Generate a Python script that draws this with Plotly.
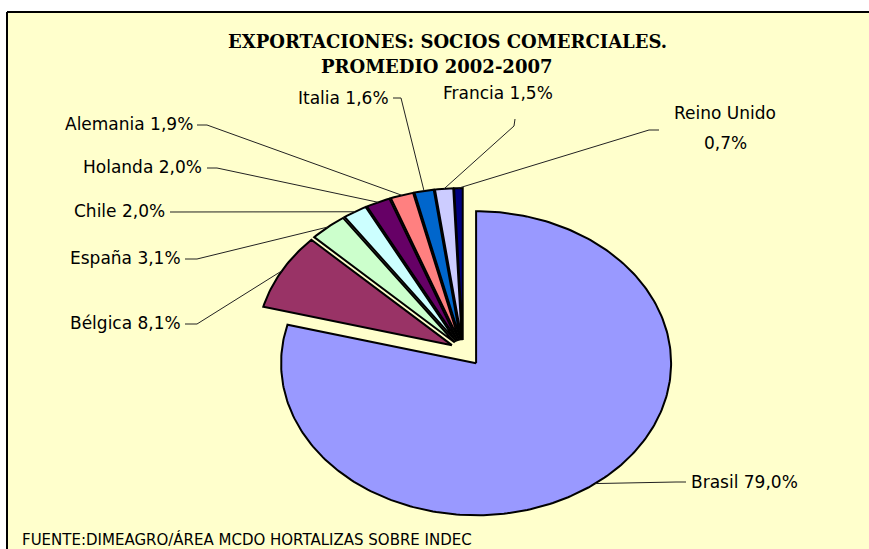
import numpy as np
import plotly.graph_objects as go

# ---------------- data ----------------
categories = ["Brasil", "Bélgica", "España", "Chile", "Holanda",
              "Alemania", "Italia", "Francia", "Reino Unido"]
shares = [79.0, 8.1, 3.1, 2.0, 2.0, 1.9, 1.6, 1.5, 0.7]
colors = ["#9999FF", "#993366", "#CCFFCC", "#CCFFFF", "#660066",
          "#FF8080", "#0066CC", "#CCCCFF", "#000080"]
pulls = [0.11, 0.065, 0.065, 0.065, 0.065, 0.065, 0.065, 0.065, 0.065]

title_lines = ["EXPORTACIONES: SOCIOS COMERCIALES.", "PROMEDIO 2002-2007"]
source_text = "FUENTE:DIMEAGRO/ÁREA MCDO HORTALIZAS SOBRE INDEC"

# ---------------- layout geometry (pixels) ----------------
W, H = 869, 549
CX, CY, RX, RY = 463, 350, 195, 152   # pie centre and (stretched) radii


def to_data(x, y):
    return (x - CX) / RX, (CY - y) / RY


# label anchor (px), xanchor, and leader knots (px) from the label towards the slice
label_layout = {
    "Brasil":      dict(x=689, y=482, xanchor="left",  knots=[(686, 482), (676, 482)]),
    "Bélgica":     dict(x=183, y=323, xanchor="right", knots=[(185, 324), (197, 324)]),
    "España":      dict(x=183, y=258, xanchor="right", knots=[(185, 259), (197, 259)]),
    "Chile":       dict(x=167, y=211, xanchor="right", knots=[(170, 212)]),
    "Holanda":     dict(x=204, y=167, xanchor="right", knots=[(207, 168), (217, 168)]),
    "Alemania":    dict(x=195, y=124, xanchor="right", knots=[(197, 125), (207, 125)]),
    "Italia":      dict(x=391, y=98,  xanchor="right", knots=[(393, 98), (401, 98)]),
    "Francia":     dict(x=441, y=93,  xanchor="left",  knots=[(515, 119), (514, 126)]),
    "Reino Unido": dict(x=725, y=113, xanchor="center", knots=[(659, 130), (649, 130)],
                        y2=143),
}

FONT_LBL = "DejaVu Sans, Verdana, sans-serif"
FONT_TTL = "DejaVu Serif, serif"
LBL_SIZE = 17

fig = go.Figure()

total = sum(shares)
cum = 0.0
for cat, val, col, pull in zip(categories, shares, colors, pulls):
    a0 = 2 * np.pi * cum / total
    a1 = 2 * np.pi * (cum + val) / total
    am = 0.5 * (a0 + a1)
    cum += val
    ou, ov = pull * np.sin(am), pull * np.cos(am)
    n = max(3, int(np.degrees(a1 - a0)) + 2)
    t = np.linspace(a0, a1, n)
    xs = np.concatenate([[ou], ou + np.sin(t), [ou]])
    ys = np.concatenate([[ov], ov + np.cos(t), [ov]])
    fig.add_trace(go.Scatter(
        x=xs, y=ys, mode="lines", fill="toself", fillcolor=col,
        line=dict(color="black", width=2), hoverinfo="text",
        text=f"{cat}: {val:.1f}%", showlegend=False))

    # leader line: from label knots to the middle of the slice's arc
    lay = label_layout[cat]
    pts = [to_data(*p) for p in lay["knots"]]
    pts.append((ou + np.sin(am), ov + np.cos(am)))
    fig.add_trace(go.Scatter(
        x=[p[0] for p in pts], y=[p[1] for p in pts], mode="lines",
        line=dict(color="#222222", width=1), hoverinfo="skip", showlegend=False))

    pct = f"{val:.1f}".replace(".", ",") + "%"
    if "y2" in lay:
        parts = [(cat, lay["y"]), (pct, lay["y2"])]
    else:
        parts = [(f"{cat} {pct}", lay["y"])]
    for txt, yy in parts:
        lx, ly = to_data(lay["x"], yy)
        fig.add_annotation(
            x=lx, y=ly, xref="x", yref="y", text=txt, showarrow=False,
            xanchor=lay["xanchor"], yanchor="middle", align="center",
            font=dict(family=FONT_LBL, size=LBL_SIZE, color="black"))

# title
for line, (tx, ty) in zip(title_lines, [(447, 42), (436, 66)]):
    fig.add_annotation(
        x=tx / W, y=1 - ty / H, xref="paper", yref="paper", text=f"<b>{line}</b>",
        showarrow=False, xanchor="center", yanchor="middle",
        font=dict(family=FONT_TTL, size=18, color="black"))

# source note
fig.add_annotation(
    x=20 / W, y=1 - 539 / H, xref="paper", yref="paper", text=source_text,
    showarrow=False, xanchor="left", yanchor="middle",
    font=dict(family=FONT_LBL, size=15, color="black"))

# chart area: yellow fill, with the frame visible on the left and top only
fig.add_shape(type="rect", xref="paper", yref="paper",
              x0=7 / W, x1=1.2, y0=-0.2, y1=1 - 12 / H,
              fillcolor="#FFFFCC", line=dict(width=0, color="rgba(0,0,0,0)"),
              layer="below")
fig.add_shape(type="line", xref="paper", yref="paper",
              x0=7 / W, x1=7 / W, y0=-0.2, y1=1 - 12 / H,
              line=dict(color="black", width=2), layer="below")
fig.add_shape(type="line", xref="paper", yref="paper",
              x0=7 / W, x1=1.2, y0=1 - 12 / H, y1=1 - 12 / H,
              line=dict(color="black", width=2), layer="below")

xr = [(0 - CX) / RX, (W - CX) / RX]
yr = [(CY - H) / RY, (CY - 0) / RY]
fig.update_layout(
    width=W, height=H, autosize=False,
    margin=dict(l=0, r=0, t=0, b=0, pad=0),
    paper_bgcolor="white", plot_bgcolor="rgba(0,0,0,0)",
    xaxis=dict(range=xr, visible=False, fixedrange=True),
    yaxis=dict(range=yr, visible=False, fixedrange=True),
    showlegend=False,
)

fig.write_html(
    "out.html",
    config={"displayModeBar": False},
    post_script="document.body.style.margin='0';document.body.style.overflow='hidden';",
)
